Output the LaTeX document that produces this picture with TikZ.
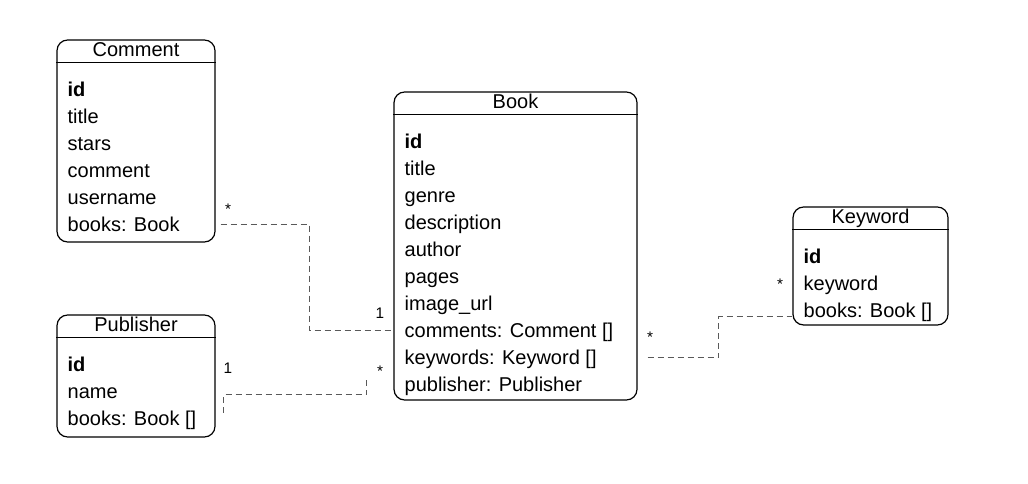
\documentclass[tikz,border=0pt]{standalone}
\usepackage{fontspec}
\setmainfont{Liberation Sans}
\usetikzlibrary{calc}

\tikzset{
  classbox/.style={draw, rounded corners=8pt, line width=0.9pt, inner sep=0pt},
  classname/.style={font=\fontsize{15}{18}\selectfont, anchor=base, inner sep=0pt},
  rowtext/.style={font=\fontsize{15}{18}\selectfont, anchor=base west, inner sep=0pt, text height=10pt, text depth=3pt},
  link/.style={draw=black!65, dash pattern=on 4.5pt off 3pt, line width=0.6pt},
  mult/.style={font=\fontsize{11.5}{13}\selectfont, text=black, inner sep=0pt}
}

\begin{document}
\begin{tikzpicture}[x=0.75pt, y=-0.75pt]%
\useasboundingbox (0,0) rectangle (1028,484);%
% class boxes
\node[classbox, minimum width=118.5pt, minimum height=151.5pt] (comment) at (136,141) {};%
\node[classbox, minimum width=182.25pt, minimum height=231pt] (book) at (515.5,246) {};%
\node[classbox, minimum width=116.25pt, minimum height=88.5pt] (keyword) at (870.5,266) {};%
\node[classbox, minimum width=118.5pt, minimum height=91.5pt] (publisher) at (136,376) {};%
% header line and class name
\foreach \b/\t in {comment/Comment, book/Book, keyword/Keyword, publisher/Publisher} {
  \draw[line width=0.9pt] ($(\b.north west)+(0,23)$) -- ($(\b.north east)+(0,23)$);
  \node[classname] (\b-title) at ($(\b.north)+(0,17.5)$) {\t};
}
% fields
\foreach \r [count=\i, evaluate=\i as \y using 30+27*\i] in {\textbf{id}, title, stars, comment, username, books: Book}
  \node[rowtext] (comment-\i) at ($(comment.north west)+(11,\y)$) {\r};
\foreach \r [count=\i, evaluate=\i as \y using 30+27*\i] in {\textbf{id}, title, genre, description, author, pages, image\_url, comments: Comment [], keywords: Keyword [], publisher: Publisher}
  \node[rowtext] (book-\i) at ($(book.north west)+(11,\y)$) {\r};
\foreach \r [count=\i, evaluate=\i as \y using 30+27*\i] in {\textbf{id}, keyword, books: Book []}
  \node[rowtext] (keyword-\i) at ($(keyword.north west)+(11,\y)$) {\r};
\foreach \r [count=\i, evaluate=\i as \y using 30+27*\i] in {\textbf{id}, name, books: Book []}
  \node[rowtext] (publisher-\i) at ($(publisher.north west)+(11,\y)$) {\r};
% associations
\draw[link] ($(comment.east |- comment-6)+(5,-2)$) -- ++(89,0) |- ($(book.west |- book-8)+(0,-2)$);%
\draw[link] ($(publisher.east |- publisher-3)+(8,-8)$) -- ++(0,-18) -| ($(book.west |- book-10)+(-27,-7)$);%
\draw[link] ($(book.east |- book-9)+(10,-2)$) -- ++(71,0) |- ($(keyword.west |- keyword-3)+(0,4)$);%
% multiplicities
\node[mult] (mc1) at (228,209) {*};%
\node[mult] (mc2) at (380,313) {1};%
\node[mult] (mp1) at (228,368) {1};%
\node[mult] (mp2) at (380,371) {*};%
\node[mult] (mk1) at (650,337) {*};%
\node[mult] (mk2) at (780,284) {*};%
\end{tikzpicture}
\end{document}
